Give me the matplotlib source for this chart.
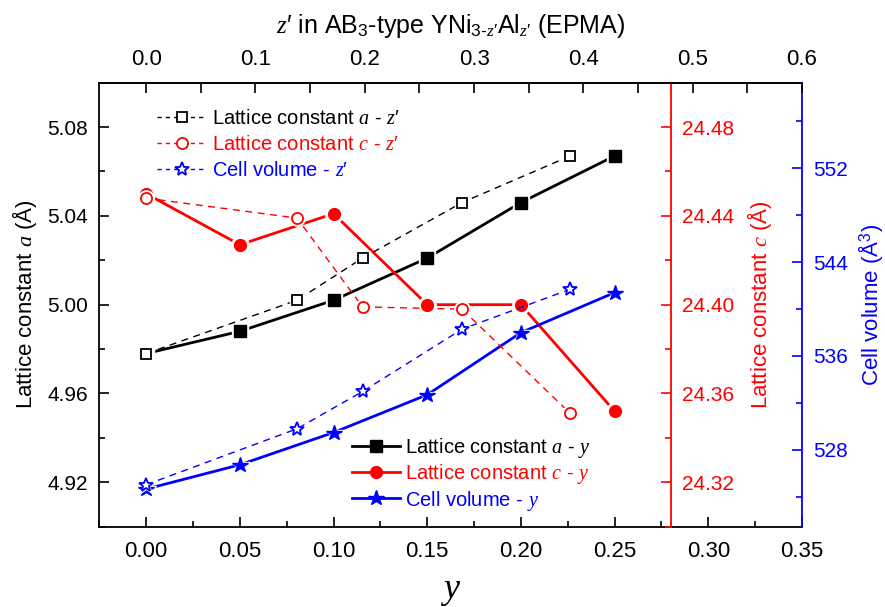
import matplotlib
matplotlib.use("Agg")
import matplotlib.pyplot as plt
from matplotlib import font_manager as fm
from matplotlib.ticker import MultipleLocator, FormatStrFormatter
from matplotlib.lines import Line2D

# ---------------- data ----------------
y_vals = [0.00, 0.05, 0.10, 0.15, 0.20, 0.25]
a_y = [4.978, 4.988, 5.002, 5.021, 5.046, 5.067]
c_y = [24.450, 24.427, 24.441, 24.400, 24.400, 24.352]
V_y = [524.65, 526.72, 529.47, 532.69, 537.99, 541.40]

z_vals = [0.00, 0.138, 0.198, 0.289, 0.388]
a_z = [4.978, 5.002, 5.021, 5.046, 5.067]
c_z = [24.448, 24.439, 24.399, 24.398, 24.351]
V_z = [525.02, 529.79, 532.97, 538.28, 541.69]

# ---------------- fonts ----------------
names = {f.name for f in fm.fontManager.ttflist}
SANS = "Liberation Sans"
NARROW = "Liberation Sans Narrow" if "Liberation Sans Narrow" in names else "Liberation Sans"
plt.rcParams["font.family"] = [SANS, "DejaVu Sans"]
plt.rcParams["mathtext.fontset"] = "custom"
plt.rcParams["mathtext.rm"] = "Liberation Sans"
plt.rcParams["mathtext.it"] = "Liberation Serif:italic"
plt.rcParams["mathtext.bf"] = "Liberation Sans:bold"

RED = "#ff0000"
BLUE = "#0000ff"
ZP = r"$z\prime$"

fig = plt.figure(figsize=(8.85, 6.07), dpi=100)
rect = [0.1122, 0.1323, 0.7940, 0.7315]
ax = fig.add_axes(rect)
ax.set_xlim(-0.025, 0.35)
ax.set_ylim(4.90, 5.10)

axc = ax.twinx()
axc.set_ylim(24.30, 24.50)
axv = ax.twinx()
axv.set_ylim(521.44, 559.30)
axt = ax.twiny()
axt.set_xlim(-0.025 * 12 / 7, 0.60)

ax_cz = fig.add_axes(rect, sharex=axt, sharey=axc)
ax_vz = fig.add_axes(rect, sharex=axt, sharey=axv)
for a_ in (ax_cz, ax_vz):
    a_.set_axis_off()
    a_.patch.set_visible(False)

# ---------------- spines ----------------
ax.spines["right"].set_visible(False)
for s in ("left", "top", "bottom"):
    axc.spines[s].set_visible(False)
    axv.spines[s].set_visible(False)
for s in ("left", "right", "bottom"):
    axt.spines[s].set_visible(False)
axc.spines["right"].set_position(("axes", (0.28 + 0.025) / 0.375))
axc.spines["right"].set_color(RED)
axv.spines["right"].set_color(BLUE)
for a_ in (ax, axc, axv, axt):
    for s in a_.spines.values():
        s.set_linewidth(1.3)

# ---------------- ticks ----------------
ax.xaxis.set_major_locator(MultipleLocator(0.05))
ax.xaxis.set_minor_locator(MultipleLocator(0.025))
ax.xaxis.set_major_formatter(FormatStrFormatter("%.2f"))
ax.yaxis.set_major_locator(MultipleLocator(0.04))
ax.yaxis.set_minor_locator(MultipleLocator(0.02))
ax.yaxis.set_major_formatter(FormatStrFormatter("%.2f"))
axt.xaxis.set_major_locator(MultipleLocator(0.1))
axt.xaxis.set_minor_locator(MultipleLocator(0.05))
axt.xaxis.set_major_formatter(FormatStrFormatter("%.1f"))
axc.yaxis.set_major_locator(MultipleLocator(0.04))
axc.yaxis.set_minor_locator(MultipleLocator(0.02))
axc.yaxis.set_major_formatter(FormatStrFormatter("%.2f"))
axv.yaxis.set_major_locator(MultipleLocator(8))
axv.yaxis.set_minor_locator(MultipleLocator(4))
axv.yaxis.set_major_formatter(FormatStrFormatter("%d"))

ax.tick_params(axis="y", which="major", direction="in", length=7, width=1.2,
               labelsize=15, pad=8)
ax.tick_params(axis="y", which="minor", direction="in", length=4, width=1.2)
ax.tick_params(axis="x", which="major", direction="in", length=7, width=1.2,
               labelsize=16, pad=10)
ax.tick_params(axis="x", which="minor", direction="in", length=4, width=1.2)
for lab in ax.get_xticklabels():
    lab.set_family(NARROW)
axt.tick_params(axis="x", which="major", direction="in", length=7, width=1.2,
                labelsize=16, pad=9)
axt.tick_params(axis="x", which="minor", direction="in", length=7, width=1.2)
for lab in axt.get_xticklabels():
    lab.set_family(NARROW)
axc.tick_params(axis="y", which="major", direction="in", length=7, width=1.2,
                labelsize=15, pad=8, colors=RED)
axc.tick_params(axis="y", which="minor", direction="in", length=4, width=1.2, colors=RED)
axv.tick_params(axis="y", which="major", direction="in", length=7, width=1.2,
                labelsize=15, pad=8, colors=BLUE)
axv.tick_params(axis="y", which="minor", direction="in", length=4, width=1.2, colors=BLUE)

# ---------------- labels ----------------
ax.set_ylabel(r"Lattice constant $a$ (Å)", fontsize=16, labelpad=6)
axc.set_ylabel(r"Lattice constant $c$ (Å)", fontsize=16, color=RED, labelpad=8)
axv.set_ylabel(r"Cell volume (Å$^3$)", fontsize=16, color=BLUE, labelpad=6)
ax.set_xlabel("y", fontsize=26, family="Liberation Serif", style="italic", labelpad=8)
axt.set_xlabel(ZP + r" in AB$_3$-type YNi$_{3\text{-}z\prime}$Al$_{z\prime}$ (EPMA)",
               fontsize=18, family=NARROW, labelpad=12)

# ---------------- data drawing ----------------
def series(axis, x, yv, color, marker, filled, ms):
    if filled:
        axis.plot(x, yv, color=color, lw=2.0, zorder=2)
        axis.plot(x, yv, ls="none", marker=marker, ms=ms + 4, mfc="white",
                  mec="white", zorder=3)
        axis.plot(x, yv, ls="none", marker=marker, ms=ms, mfc=color,
                  mec=color, zorder=4)
    else:
        axis.plot(x, yv, color=color, lw=1.0, ls=(0, (5, 4)), zorder=2)
        axis.plot(x, yv, ls="none", marker=marker, ms=ms + 3, mfc="white",
                  mec="white", zorder=3)
        axis.plot(x, yv, ls="none", marker=marker, ms=ms, mfc="white",
                  mec=color, mew=1.3, zorder=4)

series(axt, z_vals, a_z, "black", "s", False, 7.5)
series(ax_cz, z_vals, c_z, RED, "o", False, 8)
series(ax_vz, z_vals, V_z, BLUE, "*", False, 10.5)
series(ax, y_vals, a_y, "black", "s", True, 8)
series(axc, y_vals, c_y, RED, "o", True, 8.5)
series(axv, y_vals, V_y, BLUE, "*", True, 11.5)

# ---------------- legends ----------------
def h(color, marker, filled, ms):
    if filled:
        return Line2D([], [], color=color, lw=2.0, marker=marker, ms=ms,
                      mfc=color, mec=color)
    return Line2D([], [], color=color, lw=1.0, ls=(0, (3, 3)), marker=marker,
                  ms=ms, mfc="white", mec=color, mew=1.3)

leg1 = ax_vz.legend(
    handles=[h("black", "s", False, 7.5), h(RED, "o", False, 8), h(BLUE, "*", False, 10.5)],
    labels=[r"Lattice constant $a$ - " + ZP, r"Lattice constant $c$ - " + ZP,
            r"Cell volume - " + ZP],
    loc="upper left", bbox_to_anchor=(0.082, 0.94), frameon=False, fontsize=14.5,
    handlelength=2.5, handletextpad=0.25, labelspacing=0.35, borderpad=0,
    borderaxespad=0)
for t, c in zip(leg1.get_texts(), ["black", RED, BLUE]):
    t.set_color(c)
ax_vz.add_artist(leg1)

leg2 = ax_vz.legend(
    handles=[h("black", "s", True, 8), h(RED, "o", True, 8.5), h(BLUE, "*", True, 11.5)],
    labels=[r"Lattice constant $a$ - $y$", r"Lattice constant $c$ - $y$",
            r"Cell volume - $y$"],
    loc="upper left", bbox_to_anchor=(0.359, 0.205), frameon=False, fontsize=14.5,
    handlelength=2.4, handletextpad=0.25, labelspacing=0.12, borderpad=0,
    borderaxespad=0)
for t, c in zip(leg2.get_texts(), ["black", RED, BLUE]):
    t.set_color(c)

fig.savefig("out.png", dpi=100)
